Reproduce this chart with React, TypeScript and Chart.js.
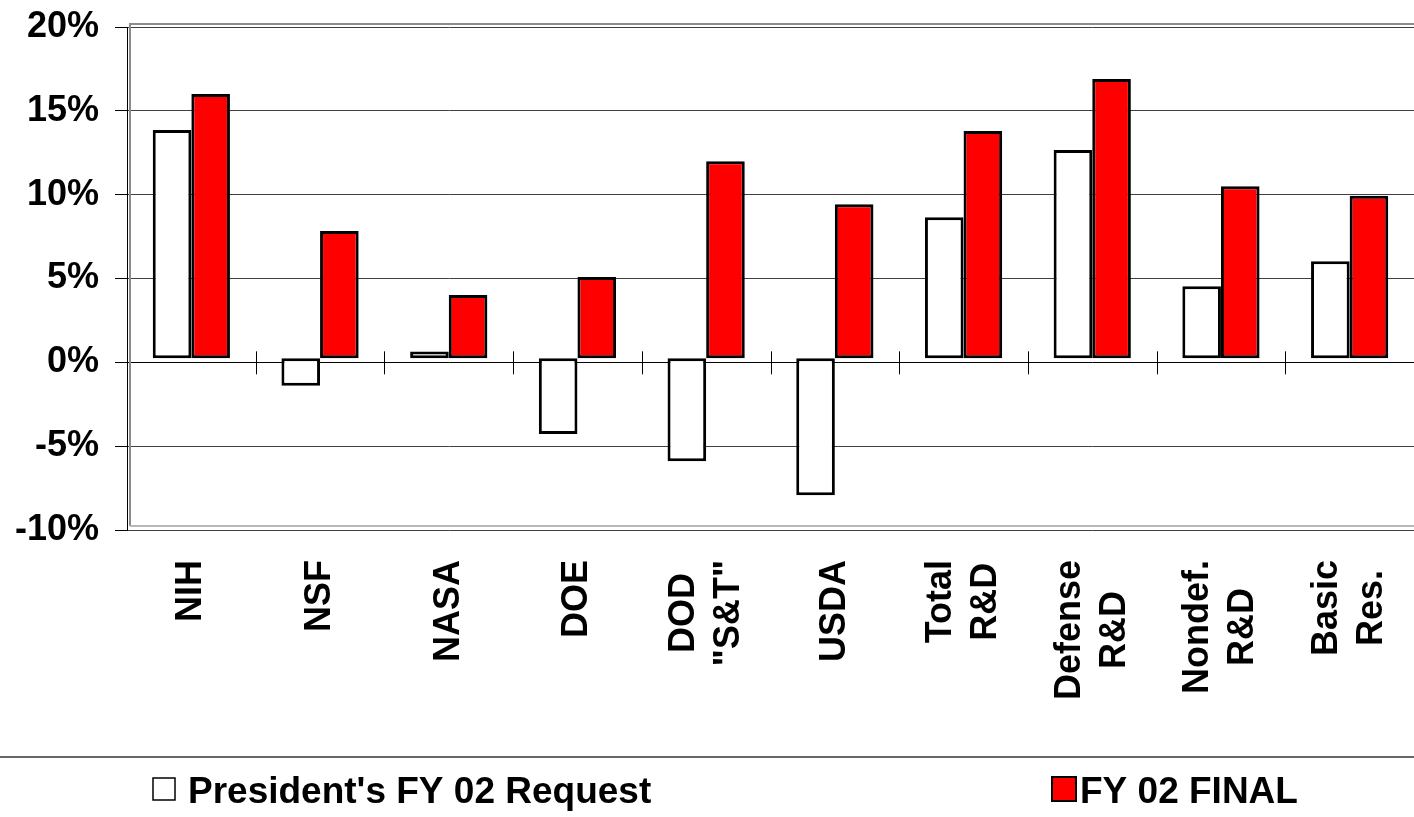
import React, { useEffect, useRef } from "react";
import { Chart, registerables } from "chart.js";

Chart.register(...registerables);

const categories: string[][] = [
  ["NIH"],
  ["NSF"],
  ["NASA"],
  ["DOE"],
  ["DOD", "\"S&T\""],
  ["USDA"],
  ["Total", "R&D"],
  ["Defense", "R&D"],
  ["Nondef.", "R&D"],
  ["Basic", "Res."],
];
const requestValues = [13.85, -1.39, 0.64, -4.28, -5.9, -7.92, 8.66, 12.66, 4.54, 6.03];
const finalValues = [16.0, 7.84, 4.02, 5.09, 12.0, 9.43, 13.79, 16.9, 10.5, 9.93];
const yTickValues = [-10, -5, 0, 5, 10, 15, 20];
const seriesNames = ["President's FY 02 Request", "FY 02 FINAL"];

const FONT = '"Liberation Sans", Arial, Helvetica, sans-serif';
const W = 1414;
const H = 817;
const BAR_BASE = 0.24;

const framePlugin = {
  id: "frame",
  beforeDatasetsDraw(chart: any) {
    const { ctx, chartArea } = chart;
    const { left, top, right, bottom } = chartArea;
    ctx.save();
    ctx.strokeStyle = "#8c8c8c";
    ctx.lineWidth = 2;
    ctx.beginPath();
    ctx.moveTo(left + 3, bottom - 4);
    ctx.lineTo(left + 3, top - 3);
    ctx.lineTo(right, top - 3);
    ctx.stroke();
    ctx.strokeStyle = "#b8b8b8";
    ctx.beginPath();
    ctx.moveTo(left + 3, bottom - 4);
    ctx.lineTo(right, bottom - 4);
    ctx.stroke();
    ctx.restore();
  },
};

const zeroTicksPlugin = {
  id: "zeroTicks",
  afterDatasetsDraw(chart: any) {
    const { ctx } = chart;
    const xs = chart.scales.x;
    const ys = chart.scales.y;
    const y0 = ys.getPixelForValue(0);
    ctx.save();
    ctx.strokeStyle = "#000";
    ctx.lineWidth = 1;
    for (let i = 1; i < categories.length; i++) {
      const x = Math.round((xs.getPixelForValue(i - 1) + xs.getPixelForValue(i)) / 2) + 0.5;
      ctx.beginPath();
      ctx.moveTo(x, y0 - 11);
      ctx.lineTo(x, y0 + 12);
      ctx.stroke();
    }
    ctx.restore();
  },
};

const xLabelsPlugin = {
  id: "xLabels",
  afterDraw(chart: any) {
    const { ctx, chartArea } = chart;
    const xs = chart.scales.x;
    ctx.save();
    ctx.font = `bold 36px ${FONT}`;
    ctx.fillStyle = "#000";
    ctx.textAlign = "center";
    ctx.textBaseline = "middle";
    const lh = 45;
    categories.forEach((lines, i) => {
      const x = xs.getPixelForValue(i);
      const topY = chartArea.bottom + 30;
      const maxW = Math.max(...lines.map((l) => ctx.measureText(l).width));
      ctx.save();
      ctx.translate(x, topY);
      ctx.rotate(-Math.PI / 2);
      lines.forEach((l, j) => {
        ctx.fillText(l, -maxW / 2, (j - (lines.length - 1) / 2) * lh);
      });
      ctx.restore();
    });
    ctx.restore();
  },
};

const legendPlugin = {
  id: "customLegend",
  afterDraw(chart: any) {
    const { ctx, width } = chart;
    const ds = chart.data.datasets;
    ctx.save();
    ctx.strokeStyle = "#666";
    ctx.lineWidth = 2;
    ctx.beginPath();
    ctx.moveTo(0, 757);
    ctx.lineTo(width, 757);
    ctx.stroke();

    const items = [
      { x: 153, size: 22, textX: 188 },
      { x: 1052, size: 24, textX: 1080 },
    ];
    ctx.font = `bold 37px ${FONT}`;
    ctx.textBaseline = "middle";
    ctx.textAlign = "left";
    items.forEach((it, i) => {
      const cy = 789;
      ctx.fillStyle = ds[i].backgroundColor;
      ctx.fillRect(it.x, cy - it.size / 2, it.size, it.size);
      ctx.strokeStyle = "#000";
      ctx.lineWidth = i === 0 ? 1.5 : 2;
      ctx.strokeRect(it.x, cy - it.size / 2, it.size, it.size);
      ctx.fillStyle = "#000";
      ctx.fillText(ds[i].label, it.textX, cy + 4);
    });
    ctx.restore();
  },
};

export default function App() {
  const canvasRef = useRef<HTMLCanvasElement | null>(null);

  useEffect(() => {
    document.body.style.margin = "0";
    const canvas = canvasRef.current;
    if (!canvas) return;
    const chart = new Chart(canvas, {
      type: "bar",
      data: {
        labels: categories.map((c) => c.join(" ")),
        datasets: [
          {
            label: seriesNames[0],
            data: requestValues,
            base: BAR_BASE,
            backgroundColor: "#ffffff",
            borderColor: "#000000",
            borderWidth: 3,
            borderSkipped: false,
          },
          {
            label: seriesNames[1],
            data: finalValues,
            base: BAR_BASE,
            backgroundColor: "#ff0000",
            borderColor: "#000000",
            borderWidth: 3,
            borderSkipped: false,
          },
        ],
      },
      options: {
        responsive: true,
        maintainAspectRatio: false,
        animation: false,
        devicePixelRatio: 1,
        categoryPercentage: 0.6,
        barPercentage: 1,
        layout: { padding: { top: 27, right: 0, bottom: 0, left: 0 } },
        plugins: {
          legend: { display: false },
          tooltip: { enabled: false },
        },
        scales: {
          x: {
            grid: { display: false },
            border: { display: false },
            ticks: { display: false },
            afterFit: (s: any) => {
              s.height = H - 530;
            },
          },
          y: {
            min: -10,
            max: 20,
            afterBuildTicks: (s: any) => {
              s.ticks = yTickValues.map((v) => ({ value: v }));
            },
            ticks: {
              color: "#000",
              padding: 16,
              font: { family: FONT, size: 36, weight: "bold" },
              callback: (v: any) => `${v}%`,
            },
            grid: {
              color: (c: any) => (c.tick && c.tick.value === 0 ? "#000" : "#404040"),
              tickColor: "#000",
              tickLength: 12,
              lineWidth: 1,
            },
            border: { display: true, color: "#000", width: 1 },
            afterFit: (s: any) => {
              s.width = 127;
              s.paddingTop = 0;
              s.paddingBottom = 0;
            },
          },
        },
      } as any,
      plugins: [framePlugin, zeroTicksPlugin, xLabelsPlugin, legendPlugin],
    });
    return () => chart.destroy();
  }, []);

  return (
    <div style={{ position: "relative", width: W, height: H }}>
      <canvas ref={canvasRef} width={W} height={H} />
    </div>
  );
}
